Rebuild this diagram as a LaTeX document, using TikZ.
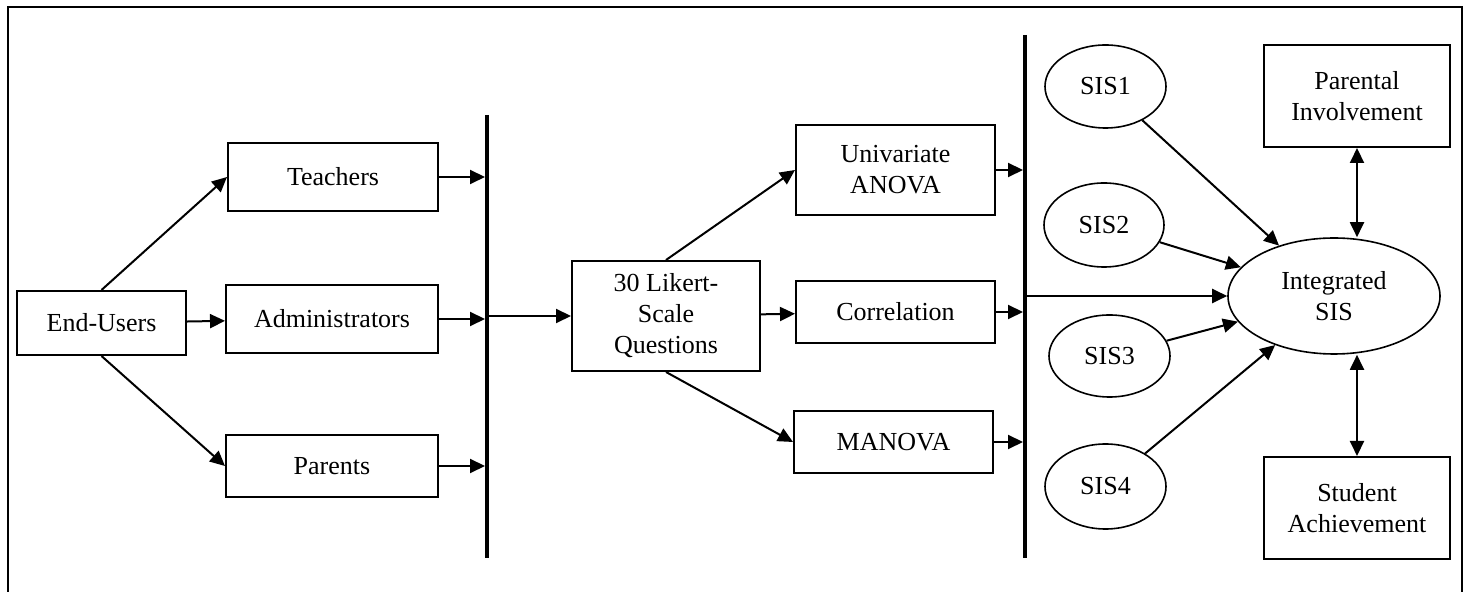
\documentclass[tikz,border=0pt]{standalone}
\usepackage{fontspec}
\setmainfont{Liberation Serif}
\usetikzlibrary{shapes.geometric,arrows.meta}

\begin{document}
\begin{tikzpicture}[x=0.5pt,y=-0.5pt,
        font=\fontsize{13}{15.5}\selectfont,
        box/.style={shape=rectangle,draw=black,line width=1pt,inner sep=1pt,align=center},
        oval/.style={shape=ellipse,draw=black,line width=0.8pt,inner sep=1pt,align=center},
        arr/.style={-{Triangle[length=7.5pt,width=7pt]},line width=1pt},
        both/.style={{Triangle[length=7.5pt,width=7pt]}-{Triangle[length=7.5pt,width=7pt]},line width=1pt},
        tobar/.style={arr,shorten >=1pt},
        bar/.style={line width=2pt}]
        \useasboundingbox (0,0) rectangle (1467,592);
        \draw[line width=1pt] (8,592) -- (8,7) -- (1462,7) -- (1462,592);

        \node[box,minimum width=84.5pt,minimum height=32pt]  (EU) at (101.5,323) {End-Users};
        \node[box,minimum width=105pt,minimum height=34pt]   (T) at (333,177) {Teachers};
        \node[box,minimum width=106pt,minimum height=34pt]   (AD) at (332,319) {Administrators};
        \node[box,minimum width=106pt,minimum height=31pt]   (P) at (332,466) {Parents};
        \node[box,minimum width=94pt,minimum height=55pt]    (L) at (666,316) {30 Likert-\\Scale\\Questions};
        \node[box,minimum width=99.5pt,minimum height=45pt]  (U) at (895.5,170) {Univariate\\ANOVA};
        \node[box,minimum width=99.5pt,minimum height=31pt]  (C) at (895.5,312) {Correlation};
        \node[box,minimum width=99.5pt,minimum height=31pt]  (M) at (893.5,442) {MANOVA};
        \node[oval,minimum width=60.5pt,minimum height=41.5pt] (S1) at (1105.5,86.5) {SIS1};
        \node[oval,minimum width=60pt,minimum height=42pt]     (S2) at (1104,225) {SIS2};
        \node[oval,minimum width=60.5pt,minimum height=41pt]   (S3) at (1109.5,356) {SIS3};
        \node[oval,minimum width=60.5pt,minimum height=42.5pt] (S4) at (1105.5,486.5) {SIS4};
        \node[oval,minimum width=106pt,minimum height=58pt]    (I) at (1334,296) {Integrated\\SIS};
        \node[box,minimum width=93pt,minimum height=51pt]    (PI) at (1357,96) {Parental\\Involvement};
        \node[box,minimum width=93pt,minimum height=51pt]    (SA) at (1357,508) {Student\\Achievement};

        % the two collecting bars
        \coordinate (B1a) at (487,115);
        \coordinate (B1b) at (487,558);
        \coordinate (B2a) at (1025,35);
        \coordinate (B2b) at (1025,558);
        \draw[bar] (B1a) -- (B1b);
        \draw[bar] (B2a) -- (B2b);

        \path [arr](EU.north) edge (T.west);
        \path [arr](EU) edge (AD);
        \path [arr](EU.south) edge (P.west);
        \path [tobar](T) edge (T.east -| B1a);
        \path [tobar](AD) edge (AD.east -| B1a);
        \path [tobar](P) edge (P.east -| B1a);
        \path [arr](L.west -| B1a) edge (L);
        \path [arr](L.north) edge (U.west);
        \path [arr](L) edge (C);
        \path [arr](L.south) edge (M.west);
        \path [tobar](U) edge (U.east -| B2a);
        \path [tobar](C) edge (C.east -| B2a);
        \path [tobar](M) edge (M.east -| B2a);
        \path [arr](I.west -| B2a) edge (I);
        \path [arr](S1) edge (I);
        \path [arr](S2) edge (I);
        \path [arr](S3) edge (I);
        \path [arr](S4) edge (I);
        \path [both](PI.south) edge (I.north -| PI.south);
        \path [both](SA.north) edge (I.south -| SA.north);
    \end{tikzpicture}
\end{document}
